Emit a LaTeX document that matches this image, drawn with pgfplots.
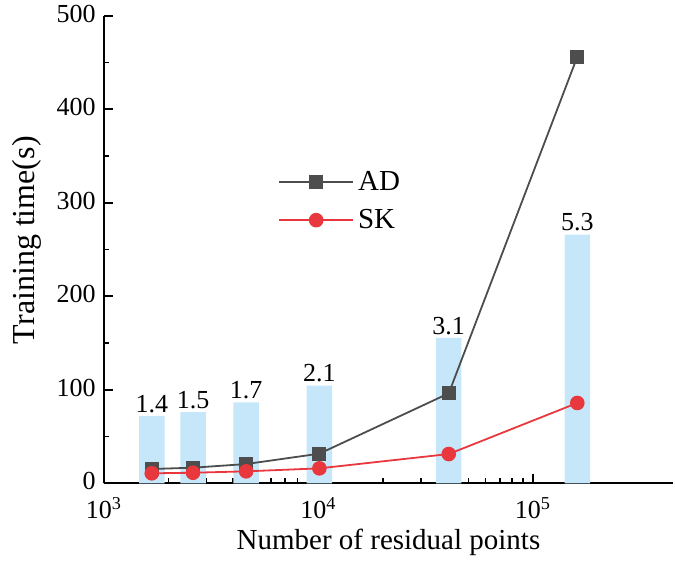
\documentclass[border=0pt]{standalone}
\usepackage{pgfplots}
\pgfplotsset{compat=1.18}
\usepackage{fontspec}
\setmainfont{Liberation Serif}
\definecolor{barblue}{HTML}{C6E6FA}
\definecolor{adgray}{HTML}{4D4D4D}
\definecolor{skred}{HTML}{E8383D}
\begin{document}
\begin{tikzpicture}
\begin{axis}[
  scale only axis,
  width=284.5pt, height=233.8pt,
  xmode=log,
  xmin=1e3, xmax=4.5e5,
  ymin=0, ymax=500,
  axis x line*=bottom, axis y line*=left,
  axis line style={line width=0.9pt},
  xtick={1e3,1e4,1e5},
  xticklabels={10\textsuperscript{3},10\textsuperscript{4},10\textsuperscript{5}},
  ytick={0,100,200,300,400,500},
  minor y tick num=1,
  tick align=inside,
  major tick length=4.5pt, minor tick length=2.5pt,
  every tick/.style={black, line width=0.8pt},
  /pgf/number format/assume math mode=true,
  tick label style={font=\fontsize{13}{15}\selectfont},
  xticklabel style={yshift=-6.5pt, inner sep=0.5pt},
  yticklabel style={inner ysep=0pt, inner xsep=4pt, yshift=1pt},
  xlabel={Number of residual points},
  ylabel={Training time(s)},
  xlabel style={font=\fontsize{14.5}{16}\selectfont, at={(axis description cs:0.5,0)}, anchor=center, yshift=-29.5pt, inner sep=1pt},
  ylabel style={font=\fontsize{16}{18}\selectfont, at={(axis description cs:0,0.52)}, anchor=center, yshift=38.5pt},
  clip=false,
  legend style={at={(axis description cs:0.295,0.686)}, anchor=north west, draw=none, fill=none,
    font=\fontsize{14.5}{17}\selectfont, row sep=4pt},
  legend cell align=left,
  legend image code/.code={\draw[mark repeat=2,mark phase=2] plot coordinates {(0pt,0pt) (18.5pt,0pt) (37pt,0pt)};},
]
\addplot[ybar, bar width=12.75pt, fill=barblue, draw=none, forget plot,
  point meta=explicit symbolic,
  nodes near coords, nodes near coords style={font=\fontsize{13}{15}\selectfont, text=black, inner sep=1.5pt}]
  coordinates {
  (1670,72) [1.4]
  (2600,76) [1.5]
  (4600,86.5) [1.7]
  (10100,104.5) [2.1]
  (40500,155.5) [3.1]
  (161000,266) [5.3]
};
\addplot[adgray, line width=0.9pt, mark=square*, mark size=3pt, mark options={fill=adgray, draw=adgray}]
  coordinates {
  (1670,15.3) (2600,16.7) (4600,20.6) (10100,31.7) (40500,96.2) (161000,456)
};
\addlegendentry{AD}
\addplot[skred, line width=0.9pt, mark=*, mark size=3.2pt, mark options={fill=skred, draw=skred}]
  coordinates {
  (1670,10.7) (2600,11.3) (4600,12.8) (10100,16.0) (40500,31.3) (161000,85.9)
};
\addlegendentry{SK}
\coordinate (SW) at (rel axis cs:0,0);
\coordinate (NE) at (rel axis cs:1,1);
\end{axis}
\pgfresetboundingbox
\path[use as bounding box] ([xshift=-52pt,yshift=-38.85pt]SW) rectangle ([xshift=1pt,yshift=7.85pt]NE);
\end{tikzpicture}
\end{document}
